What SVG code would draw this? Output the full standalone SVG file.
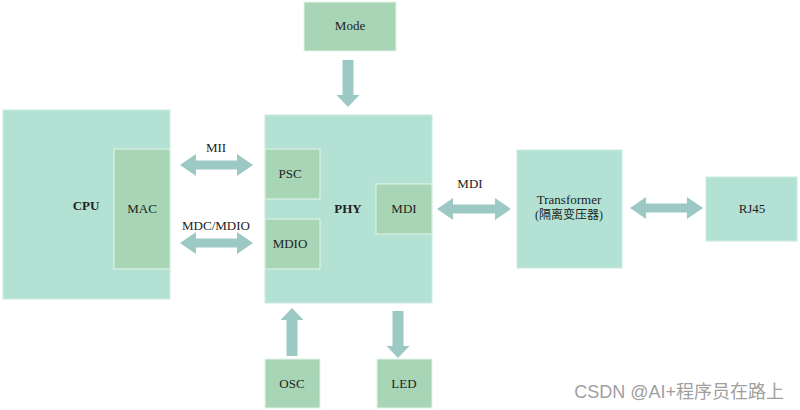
<svg xmlns="http://www.w3.org/2000/svg" width="800" height="410" viewBox="0 0 800 410">
<style>
.big{fill:#b3e2d5;stroke:#c9ebe0;stroke-width:1}
.sub{fill:#a8d5b5;stroke:#e4f3ea;stroke-width:1}
.lbl{font-family:'Liberation Serif','Times New Roman','DejaVu Serif','Noto Sans CJK SC',serif;font-size:13px;fill:#222;text-anchor:middle;dominant-baseline:central}
.b{font-weight:bold}
.arr{fill:#9dc9c5}
.wm{font-family:'Liberation Sans','Noto Sans CJK SC',sans-serif;font-size:18px;fill:#a0a0a0}
</style>
<rect width="800" height="410" fill="#ffffff"/>
<g id="cpu">
<rect class="big" x="3" y="110" width="167" height="189"/>
<text class="lbl b" x="86" y="205">CPU</text>
</g>
<g id="mac">
<rect class="sub" x="114" y="149" width="56" height="120"/>
<text class="lbl" x="142" y="208">MAC</text>
</g>
<g id="mode">
<rect class="sub" x="304" y="2" width="92" height="49"/>
<text class="lbl" x="350" y="25">Mode</text>
</g>
<g id="phy">
<rect class="big" x="265" y="115" width="167" height="188"/>
<text class="lbl b" x="348" y="208">PHY</text>
</g>
<g id="psc">
<rect class="sub" x="265" y="149" width="55" height="50"/>
<text class="lbl" x="290" y="173">PSC</text>
</g>
<g id="mdio">
<rect class="sub" x="265" y="219" width="55" height="50"/>
<text class="lbl" x="290" y="243">MDIO</text>
</g>
<g id="mdi">
<rect class="sub" x="376" y="184" width="56" height="50"/>
<text class="lbl" x="404" y="208">MDI</text>
</g>
<g id="transformer">
<rect class="big" x="517" y="150" width="105" height="118"/>
<text class="lbl" x="569" y="199">Transformer</text>
<text class="lbl" x="569" y="215" style="font-size:12px">(隔离变压器)</text>
</g>
<g id="rj45">
<rect class="big" x="706" y="177" width="91" height="64"/>
<text class="lbl" x="752" y="208">RJ45</text>
</g>
<g id="osc">
<rect class="sub" x="265" y="359" width="55" height="49"/>
<text class="lbl" x="292" y="383">OSC</text>
</g>
<g id="led">
<rect class="sub" x="377" y="359" width="55" height="49"/>
<text class="lbl" x="404" y="383">LED</text>
</g>
<g id="connectors">
<polygon class="arr" points="180,165 196,154 196,160.5 237,160.5 237,154 253,165 237,176 237,169.5 196,169.5 196,176"/>
<text class="lbl" x="216" y="147">MII</text>
<polygon class="arr" points="180,243 196,232 196,238.5 237,238.5 237,232 253,243 237,254 237,247.5 196,247.5 196,254"/>
<text class="lbl" x="216" y="225">MDC/MDIO</text>
<polygon class="arr" points="437,209 453,198 453,204.5 495,204.5 495,198 511,209 495,220 495,213.5 453,213.5 453,220"/>
<text class="lbl" x="470" y="183">MDI</text>
<polygon class="arr" points="630,208 646,197 646,203.5 687,203.5 687,197 703,208 687,219 687,212.5 646,212.5 646,219"/>
<polygon class="arr" points="342.5,60 353.5,60 353.5,95 359.5,95 348,107 336.5,95 342.5,95"/>
<polygon class="arr" points="286.5,356 297.5,356 297.5,320 303.5,320 292,308 280.5,320 286.5,320"/>
<polygon class="arr" points="392.5,311 403.5,311 403.5,346 409.5,346 398,358 386.5,346 392.5,346"/>
</g>
<text class="wm" x="784" y="392" text-anchor="end" dominant-baseline="central">CSDN @AI+程序员在路上</text>
</svg>
